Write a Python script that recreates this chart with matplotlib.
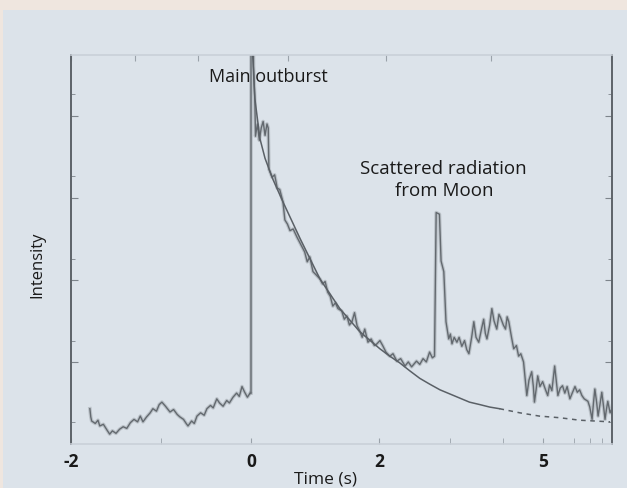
import numpy as np
import matplotlib.pyplot as plt
from matplotlib.patches import Rectangle

# Observed intensity (arbitrary units) vs time (s), before the outburst
pre_t = [-1.79, -1.78, -1.77, -1.73, -1.70, -1.68, -1.64, -1.60, -1.57, -1.54,
         -1.50, -1.46, -1.42, -1.38, -1.34, -1.30, -1.26, -1.23, -1.20, -1.16,
         -1.12, -1.09, -1.05, -1.02, -0.99, -0.95, -0.90, -0.86, -0.82, -0.79,
         -0.75, -0.72, -0.70, -0.66, -0.63, -0.60, -0.56, -0.52, -0.49, -0.45,
         -0.42, -0.38, -0.35, -0.31, -0.27, -0.24, -0.20, -0.16, -0.13, -0.10,
         -0.07, -0.04, -0.01]
pre_v = [0.43, 0.33, 0.28, 0.25, 0.29, 0.22, 0.24, 0.17, 0.12, 0.16,
         0.13, 0.18, 0.21, 0.19, 0.26, 0.30, 0.27, 0.34, 0.27, 0.33,
         0.38, 0.43, 0.40, 0.48, 0.51, 0.46, 0.39, 0.42, 0.36, 0.33,
         0.30, 0.25, 0.22, 0.28, 0.25, 0.34, 0.38, 0.35, 0.43, 0.47,
         0.44, 0.55, 0.50, 0.46, 0.53, 0.50, 0.57, 0.62, 0.58, 0.70,
         0.63, 0.57, 0.62]

# from the outburst onwards (spike at t=0 runs off the top)
burst_t = [0.00, 0.00, 0.03, 0.04, 0.06, 0.07, 0.10, 0.13, 0.16, 0.19,
           0.22, 0.25, 0.27, 0.28, 0.33, 0.37, 0.41, 0.45, 0.50, 0.53,
           0.57, 0.61, 0.66, 0.72, 0.78, 0.84, 0.88, 0.92, 0.97, 1.02,
           1.08, 1.12, 1.16, 1.20, 1.24, 1.28, 1.32, 1.36, 1.42, 1.46,
           1.50, 1.54, 1.58, 1.62, 1.66, 1.70, 1.74, 1.78, 1.83, 1.88,
           1.93, 1.97, 2.02, 2.07, 2.13, 2.20, 2.26, 2.33, 2.40, 2.48,
           2.54, 2.60, 2.65, 2.69, 2.75, 2.81, 2.87, 2.93, 2.98, 3.02,
           3.05, 3.11, 3.14, 3.19, 3.23, 3.28, 3.31, 3.34, 3.38, 3.43,
           3.47, 3.52, 3.57, 3.61, 3.65, 3.70, 3.74, 3.78, 3.83, 3.88,
           3.92, 3.95, 3.98, 4.03, 4.07, 4.11, 4.16, 4.20, 4.23, 4.28,
           4.32, 4.35, 4.38, 4.43, 4.47, 4.52, 4.56, 4.60, 4.65, 4.68,
           4.71, 4.75, 4.80, 4.83, 4.85, 4.88, 4.91, 4.95, 5.00, 5.05,
           5.11, 5.15, 5.20, 5.26, 5.30, 5.33, 5.38, 5.43, 5.48, 5.53,
           5.59, 5.64, 5.70, 5.75, 5.80, 5.85, 5.90, 5.98, 6.02, 6.07,
           6.10, 6.13, 6.17, 6.20, 6.24, 6.28, 6.32, 6.35, 6.38, 6.41,
           6.46, 6.50]
burst_v = [0.62, 5.50, 5.50, 4.60, 4.20, 3.75, 3.90, 3.70, 3.85, 3.93,
           3.76, 3.90, 3.85, 3.35, 3.25, 3.28, 3.12, 3.10, 2.95, 2.73,
           2.68, 2.60, 2.62, 2.52, 2.43, 2.34, 2.22, 2.28, 2.10, 2.06,
           2.01, 1.95, 1.98, 1.85, 1.80, 1.68, 1.72, 1.65, 1.62, 1.52,
           1.56, 1.45, 1.49, 1.60, 1.44, 1.38, 1.30, 1.40, 1.24, 1.28,
           1.20, 1.22, 1.26, 1.20, 1.12, 1.07, 1.10, 1.01, 1.04, 0.95,
           1.00, 0.94, 0.98, 1.01, 0.97, 1.04, 1.00, 1.12, 1.05, 1.07,
           2.82, 2.80, 2.23, 2.10, 1.49, 1.28, 1.34, 1.22, 1.30, 1.24,
           1.30, 1.19, 1.26, 1.15, 1.10, 1.30, 1.49, 1.30, 1.24, 1.40,
           1.52, 1.35, 1.28, 1.45, 1.65, 1.50, 1.40, 1.58, 1.54, 1.45,
           1.40, 1.55, 1.49, 1.30, 1.16, 1.20, 1.07, 1.10, 1.00, 0.80,
           0.59, 0.78, 0.88, 0.70, 0.51, 0.66, 0.83, 0.70, 0.76, 0.68,
           0.59, 0.72, 0.65, 0.95, 0.75, 0.59, 0.68, 0.71, 0.62, 0.70,
           0.55, 0.62, 0.70, 0.63, 0.66, 0.59, 0.55, 0.52, 0.45, 0.30,
           0.50, 0.67, 0.50, 0.34, 0.48, 0.63, 0.45, 0.30, 0.42, 0.52,
           0.38, 0.43]

# Fitted decay curve, solid part then dashed extrapolation
fit_t = [0.01, 0.06, 0.14, 0.22, 0.34, 0.50, 0.77, 1.08, 1.39, 1.70,
         2.02, 2.20, 2.38, 2.57, 2.75, 2.93, 3.12, 3.30, 3.48, 3.66,
         3.85, 4.03, 4.21]
fit_v = [5.00, 4.21, 3.72, 3.48, 3.23, 2.95, 2.50, 2.01, 1.65, 1.37,
         1.16, 1.07, 0.99, 0.89, 0.80, 0.73, 0.66, 0.61, 0.56, 0.51,
         0.48, 0.45, 0.43]
ext_t = [4.21, 4.58, 4.94, 5.37, 5.80, 6.46]
ext_v = [0.43, 0.38, 0.34, 0.32, 0.29, 0.27]

# Time axis is drawn with a stretched, non-uniform scale
knot_t = [-2, 0, 2, 5, 6.5]
knot_u = [0, 2.0, 3.42, 5.24, 6.01]

xticks = [-2, 0, 2, 5]
xminor = [-1, 3.3, 4.27, 5.67, 6.02, 6.28]

PANEL = '#dce3ea'
BEIGE = '#efe6df'
INK = '#5a6066'
TEXT = '#1a1a1a'


def fwd(t):
    return np.interp(t, knot_t, knot_u)


def inv(u):
    return np.interp(u, knot_u, knot_t)


def main():
    plt.rcParams['font.family'] = ['Open Sans', 'DejaVu Sans']

    fig = plt.figure(figsize=(6.27, 4.89), dpi=100, facecolor=PANEL)
    # beige border strip along top and left edge
    fig.patches.append(Rectangle((0, 0.978), 1, 0.03, transform=fig.transFigure,
                                 facecolor=BEIGE, edgecolor='none'))
    fig.patches.append(Rectangle((0, 0), 0.005, 1, transform=fig.transFigure,
                                 facecolor=BEIGE, edgecolor='none'))

    ax = fig.add_axes([0.1132, 0.09, 0.8628, 0.7955])
    ax.set_facecolor(PANEL)
    ax.set_xscale('function', functions=(fwd, inv))
    ax.set_xlim(-2, 6.5)
    ax.set_ylim(0, 4.74)

    # fuzzy noisy trace: wide faint pass plus thin dark pass
    for t, v in [(pre_t, pre_v), (burst_t, burst_v)]:
        ax.plot(t, v, color=INK, lw=2.6, alpha=0.25, solid_joinstyle='round')
        ax.plot(t, v, color=INK, lw=1.0, alpha=0.9)
    ax.plot(fit_t, fit_v, color=INK, lw=1.1)
    ax.plot(ext_t, ext_v, color=INK, lw=1.1, ls=(0, (3, 3)))

    # spines: dark sides, faint top/bottom
    for s in ['left', 'right']:
        ax.spines[s].set_color('#5d6369')
        ax.spines[s].set_linewidth(1.4)
    for s in ['top', 'bottom']:
        ax.spines[s].set_color('#c9d0d8')
        ax.spines[s].set_linewidth(1.2)

    ax.set_xticks(xticks)
    ax.set_xticks(xminor, minor=True)
    ax.set_xticklabels(['-2', '0', '2', '5'], fontsize=12.5, fontweight='bold',
                       color=TEXT)
    ax.tick_params(axis='x', which='both', direction='in', length=4, color='#9aa2aa',
                   pad=6)

    ax.set_yticks([1, 2, 3, 4])
    ax.set_yticks([0.27, 1.26, 2.26, 3.26, 4.26], minor=True)
    ax.set_yticklabels([])
    ax.tick_params(axis='y', which='both', direction='in', left=True, right=True,
                   color='#7d848b')
    ax.tick_params(axis='y', which='major', length=5)
    ax.tick_params(axis='y', which='minor', length=3)

    top = ax.secondary_xaxis('top', functions=(fwd, inv))
    top.set_xticks([0, 1, 2, 3, 4, 5, 6])
    top.set_xticklabels([])
    top.tick_params(direction='in', length=4, color='#9aa2aa')
    top.spines['top'].set_visible(False)

    ax.set_xlabel('Time (s)', fontsize=12.5, color=TEXT)
    ax.xaxis.set_label_coords(0.47, -0.068)
    ax.set_ylabel('Intensity', fontsize=12, color=TEXT)
    ax.yaxis.set_label_coords(-0.048, 0.463)

    ax.text(0.27, 4.48, 'Main outburst', ha='center', va='center', fontsize=13,
            color=TEXT)
    ax.text(3.19, 3.23, 'Scattered radiation\nfrom Moon', ha='center', va='center',
            fontsize=13.5, color=TEXT, linespacing=1.25)

    fig.savefig('out.png', dpi=100, facecolor=fig.get_facecolor())


if __name__ == '__main__':
    main()
